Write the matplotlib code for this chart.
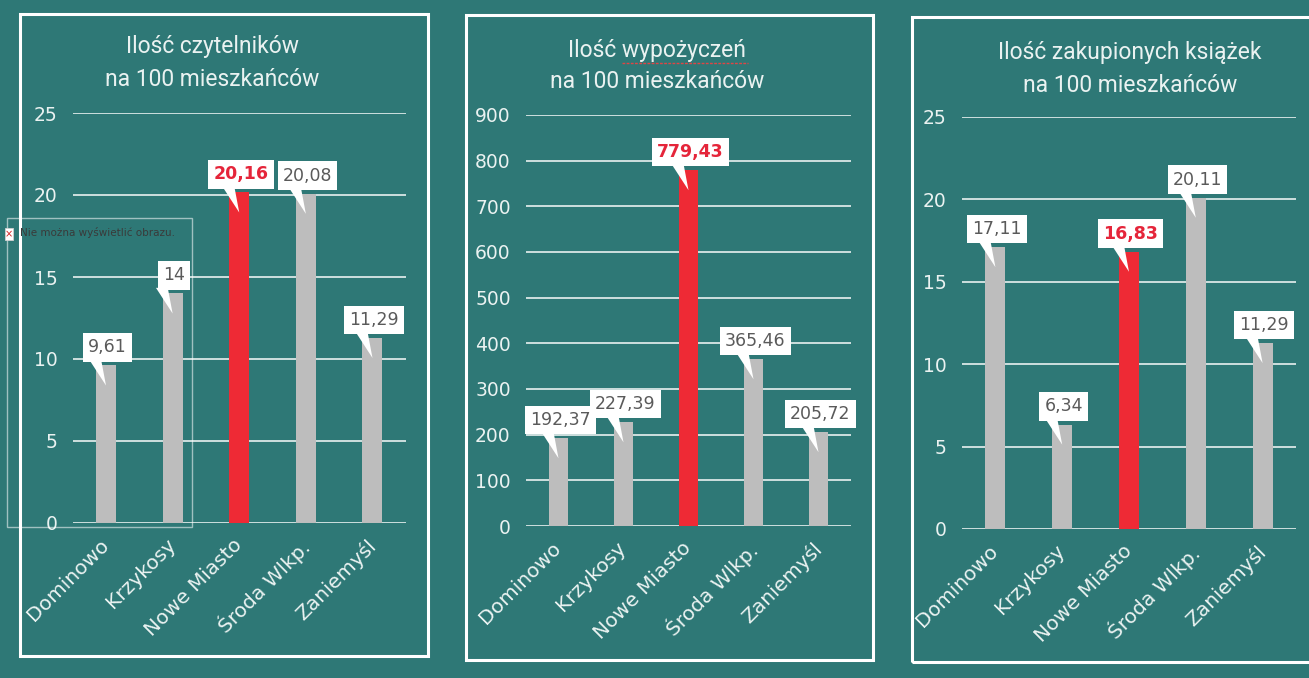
import matplotlib
matplotlib.use('Agg')
import matplotlib.pyplot as plt
from matplotlib.patches import Rectangle, Polygon
from matplotlib.lines import Line2D
import matplotlib.transforms as mtransforms

W, H, DPI = 1309, 678, 100

# ---------------- data ----------------
categories = ['Dominowo', 'Krzykosy', 'Nowe Miasto', 'Środa Wlkp.', 'Zaniemyśl']
readers = [9.61, 14, 20.16, 20.08, 11.29]
loans = [192.37, 227.39, 779.43, 365.46, 205.72]
books = [17.11, 6.34, 16.83, 20.11, 11.29]
highlight = 'Nowe Miasto'

title1 = ['Ilość czytelników', 'na 100 mieszkańców']
title2 = ['Ilość wypożyczeń', 'na 100 mieszkańców']
title3 = ['Ilość zakupionych książek', 'na 100 mieszkańców']

ticks1 = [0, 5, 10, 15, 20, 25]
ticks2 = [0, 100, 200, 300, 400, 500, 600, 700, 800, 900]
ticks3 = [0, 5, 10, 15, 20, 25]

# ---------------- style ----------------
BG = '#2e7876'
GRAY = '#bdbdbd'
RED = '#ee2a35'
LBL_GRAY = '#5a5a5a'
LBL_RED = '#e5253a'
TXT = '#eaf2f1'

fig = plt.figure(figsize=(W / DPI, H / DPI), dpi=DPI)
fig.patch.set_facecolor(BG)

def fx(px):
    return px / W

def fy(py):
    return 1 - py / H

panels = [
    dict(values=readers, title=title1, ticks=ticks1, box=(20, 14, 428, 656),
         ax=(72.7, 405.8, 113, 523), tpos=(212, 47, 80)),
    dict(values=loans, title=title2, ticks=ticks2, box=(466, 15, 873, 660),
         ax=(526, 851, 115, 526), tpos=(657, 50, 82)),
    dict(values=books, title=title3, ticks=ticks3, box=(912, 17, 1330, 662),
         ax=(962, 1296, 117, 529), tpos=(1130, 53, 85)),
]

def fmt(v):
    return ('%g' % v).replace('.', ',')

shift = mtransforms.ScaledTranslation(-5 / 72, 0, fig.dpi_scale_trans)

for p in panels:
    x0, y0, x1, y1 = p['box']
    fig.add_artist(Rectangle((fx(x0), fy(y1)), fx(x1 - x0), (y1 - y0) / H,
                             transform=fig.transFigure, fill=False,
                             ec='white', lw=2.2, zorder=1))
    cx, ty1, ty2 = p['tpos']
    fig.text(fx(cx), fy(ty1), p['title'][0], ha='center', va='center',
             fontsize=16.5, color=TXT, family='Roboto')
    fig.text(fx(cx), fy(ty2), p['title'][1], ha='center', va='center',
             fontsize=16.5, color=TXT, family='Roboto')

    l, r, t, b = p['ax']
    ax = fig.add_axes([fx(l), fy(b), fx(r - l), (b - t) / H])
    ax.set_facecolor('none')
    vals = p['values']
    xs = list(range(len(categories)))
    colors = [RED if c == highlight else GRAY for c in categories]
    ax.bar(xs, vals, width=0.3, color=colors, zorder=3)
    ax.set_xlim(-0.5, len(categories) - 0.5)
    ax.set_ylim(p['ticks'][0], p['ticks'][-1])
    ax.set_yticks(p['ticks'])
    ax.set_yticklabels([str(t_) for t_ in p['ticks']], fontsize=13.5, color=TXT,
                       family='DejaVu Sans')
    ax.grid(axis='y', color='#e9f1f0', lw=1.2, zorder=1)
    ax.set_axisbelow(True)
    for s in ax.spines.values():
        s.set_visible(False)
    ax.tick_params(axis='y', length=0, pad=11)
    ax.tick_params(axis='x', length=0, pad=9)
    ax.set_xticks(xs)
    ax.set_xticklabels(categories, rotation=45, ha='right', va='top',
                       rotation_mode='anchor', fontsize=14.5, color=TXT,
                       family='DejaVu Sans')
    for lab in ax.get_xticklabels():
        lab.set_transform(lab.get_transform() + shift)

    for i, (c, v) in enumerate(zip(categories, vals)):
        hl = c == highlight
        trans = mtransforms.Affine2D().scale(DPI / 72) + \
            mtransforms.ScaledTranslation(i, v, ax.transData)
        ax.add_patch(Polygon([(-12, 4), (-3.5, 4), (0, -14.5)], closed=True,
                             transform=trans, fc='white', ec='none',
                             zorder=4, clip_on=False))
        ax.annotate(fmt(v), xy=(i, v), xytext=(1.2, 6.5),
                    textcoords='offset points', ha='center', va='bottom',
                    fontsize=12.5, color=LBL_RED if hl else LBL_GRAY,
                    fontweight='bold' if hl else 'normal',
                    family='DejaVu Sans',
                    bbox=dict(boxstyle='square,pad=0.3', fc='white', ec='none'),
                    zorder=5, annotation_clip=False)

# spell-check underline under "wypożyczeń"
fig.add_artist(Line2D([fx(622), fx(748)], [fy(63), fy(63)], color='#e04545',
                      lw=1.0, ls=(0, (2, 1)), transform=fig.transFigure))

# broken image placeholder from the source document
fig.add_artist(Rectangle((fx(7), fy(527)), fx(185), (527 - 218) / H,
                         transform=fig.transFigure, fill=False,
                         ec=(1, 1, 1, 0.55), lw=1, zorder=6))
fig.add_artist(Rectangle((fx(5), fy(240)), fx(8), 12 / H,
                         transform=fig.transFigure, fc='white',
                         ec='#d0d0d0', lw=0.6, zorder=6))
fig.text(fx(9), fy(234), '×', ha='center', va='center', fontsize=7,
         color='#d02020', zorder=7)
fig.text(fx(20), fy(233), 'Nie można wyświetlić obrazu.', ha='left',
         va='center', fontsize=7.5, color='#3a3a3a', zorder=7)

fig.savefig('out.png', dpi=DPI, facecolor=fig.get_facecolor())
